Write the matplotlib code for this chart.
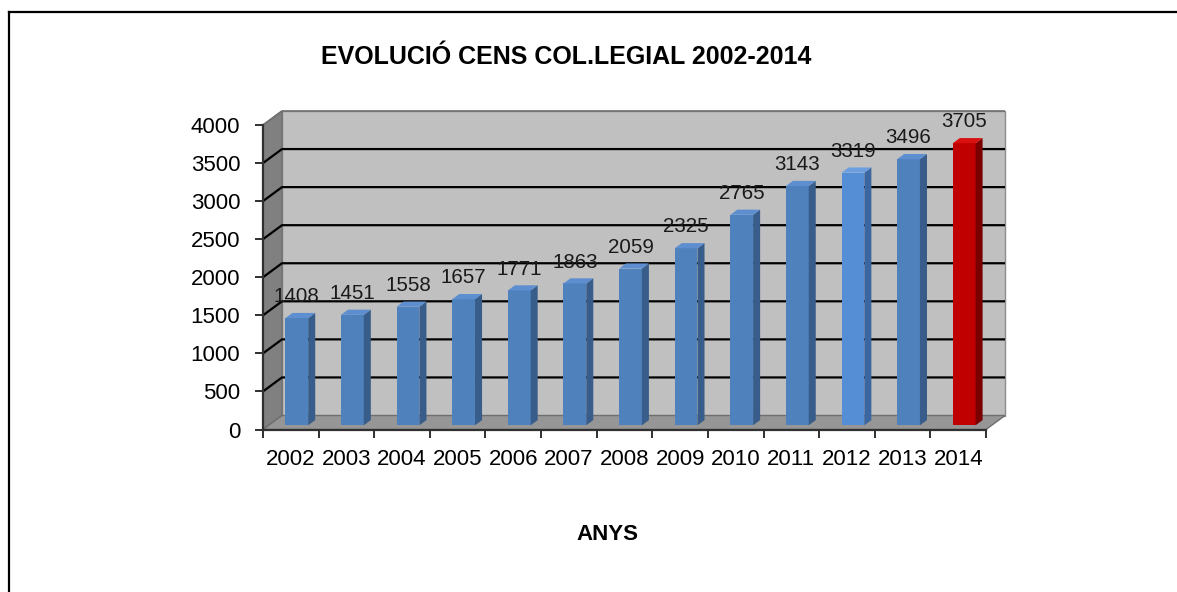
import matplotlib
matplotlib.use("Agg")
import matplotlib.pyplot as plt
from matplotlib.patches import Polygon
from matplotlib.lines import Line2D

# ---- data ----
years = ["2002", "2003", "2004", "2005", "2006", "2007", "2008",
         "2009", "2010", "2011", "2012", "2013", "2014"]
values = [1408, 1451, 1558, 1657, 1771, 1863, 2059,
          2325, 2765, 3143, 3319, 3496, 3705]
yticks = [0, 500, 1000, 1500, 2000, 2500, 3000, 3500, 4000]
title = "EVOLUCIÓ CENS COL.LEGIAL 2002-2014"
xlabel = "ANYS"

# ---- styles ----
W, H, DPI = 1177, 592, 100
FONT = ["Liberation Sans", "DejaVu Sans"]
plt.rcParams['font.family'] = FONT

front_col = ["#4f81bd"] * 13
side_col = ["#385d8a"] * 13
top_col = ["#5d8fd0"] * 13
front_col[10], side_col[10], top_col[10] = "#558ed5", "#3b66a0", "#6a9ee0"
front_col[12], side_col[12], top_col[12] = "#c00000", "#7a0000", "#d81010"

fig = plt.figure(figsize=(W / DPI, H / DPI), dpi=DPI)
fig.patch.set_facecolor("white")

# axes placed so that the front plane maps to the reference pixels
x0p, x1p, y0p, y1p = 263, 986, 429.5, 125
ax = fig.add_axes([x0p / W, 1 - y0p / H, (x1p - x0p) / W, (y0p - y1p) / H])
ax.set_facecolor("none")
n = len(values)
ax.set_xlim(0, n)
ax.set_ylim(0, 4000)

# 3D depth offsets (in data units)
DX = 19 / ((x1p - x0p) / n)
DY = 14 / ((y0p - y1p) / 4000)
TOP = 4000

wall_edge = "#8c8c8c"
# back wall
ax.add_patch(Polygon([(DX, DY), (n + DX, DY), (n + DX, TOP + DY), (DX, TOP + DY)],
                     closed=True, facecolor="#c0c0c0", edgecolor=wall_edge,
                     lw=1, clip_on=False, zorder=1))
# left wall
ax.add_patch(Polygon([(0, 0), (DX, DY), (DX, TOP + DY), (0, TOP)],
                     closed=True, facecolor="#808080", edgecolor="#6e6e6e",
                     lw=1, clip_on=False, zorder=1))
# floor
ax.add_patch(Polygon([(0, 0), (n, 0), (n + DX, DY), (DX, DY)],
                     closed=True, facecolor="#969696", edgecolor="#6e6e6e",
                     lw=1, clip_on=False, zorder=1))

# gridlines
for v in yticks[1:]:
    top = v == TOP
    ax.plot([0, DX, n + DX], [v, v + DY, v + DY],
            color="#707070" if top else "black", lw=1.2 if top else 1.6,
            clip_on=False, zorder=2, solid_capstyle="butt")

# bars
d0, d1 = 0.30, 0.67
bw = 0.41
left0 = 0.30
fronts = ax.bar([i + left0 + d0 * DX for i in range(n)], values, width=bw,
                bottom=d0 * DY, align="edge", color=front_col, zorder=3,
                edgecolor="none")
dd = d1 - d0
for i, (rect, v) in enumerate(zip(fronts, values)):
    xl = rect.get_x()
    xr = xl + rect.get_width()
    yb = rect.get_y()
    yt = yb + rect.get_height()
    # side face
    ax.add_patch(Polygon([(xr, yb), (xr + dd * DX, yb + dd * DY),
                          (xr + dd * DX, yt + dd * DY), (xr, yt)],
                         closed=True, facecolor=side_col[i], edgecolor="none",
                         zorder=3, clip_on=False))
    # top face
    ax.add_patch(Polygon([(xl, yt), (xr, yt), (xr + dd * DX, yt + dd * DY),
                          (xl + dd * DX, yt + dd * DY)],
                         closed=True, facecolor=top_col[i], edgecolor="none",
                         zorder=3, clip_on=False))
    ax.annotate(str(v), ((xl + xr) / 2, yt), xytext=(0, 11.5),
                textcoords="offset points", ha="center", va="baseline",
                fontsize=14.8, color="#1a1a1a", zorder=5, annotation_clip=False)

# axes spines / ticks
for s in ["top", "right"]:
    ax.spines[s].set_visible(False)
for s in ["left", "bottom"]:
    ax.spines[s].set_color("#303030")
    ax.spines[s].set_linewidth(1.6)
    ax.spines[s].set_zorder(4)
ax.set_yticks(yticks)
ax.set_yticklabels([str(v) for v in yticks])
ax.tick_params(axis="y", direction="out", length=5.8, width=1.4,
               color="#303030", pad=10.5, labelsize=16, labelcolor="black")
ax.set_xticks(range(n + 1))
ax.set_xticklabels([])
ax.set_xticks([i + 0.5 for i in range(n)], minor=True)
ax.set_xticklabels(years, minor=True)
ax.tick_params(axis="x", which="major", direction="out", length=5.5, width=1.4,
               color="#303030")
ax.tick_params(axis="x", which="minor", length=0, pad=14, labelsize=16,
               labelcolor="black")

# titles
fig.text(566 / W, 1 - 57 / H, title, ha="center", va="center",
         fontsize=18, fontweight="bold", color="black")
fig.text(607 / W, 1 - 535 / H, xlabel, ha="center", va="center",
         fontsize=16, fontweight="bold", color="black")

# outer border (top and left only)
fig.add_artist(Line2D([8.5 / W, 8.5 / W], [0, 1 - 11.5 / H], color="black",
                      lw=1.6, transform=fig.transFigure))
fig.add_artist(Line2D([8.5 / W, 1], [1 - 11.5 / H, 1 - 11.5 / H], color="black",
                      lw=1.6, transform=fig.transFigure))

fig.savefig("out.png", dpi=DPI, facecolor="white")
